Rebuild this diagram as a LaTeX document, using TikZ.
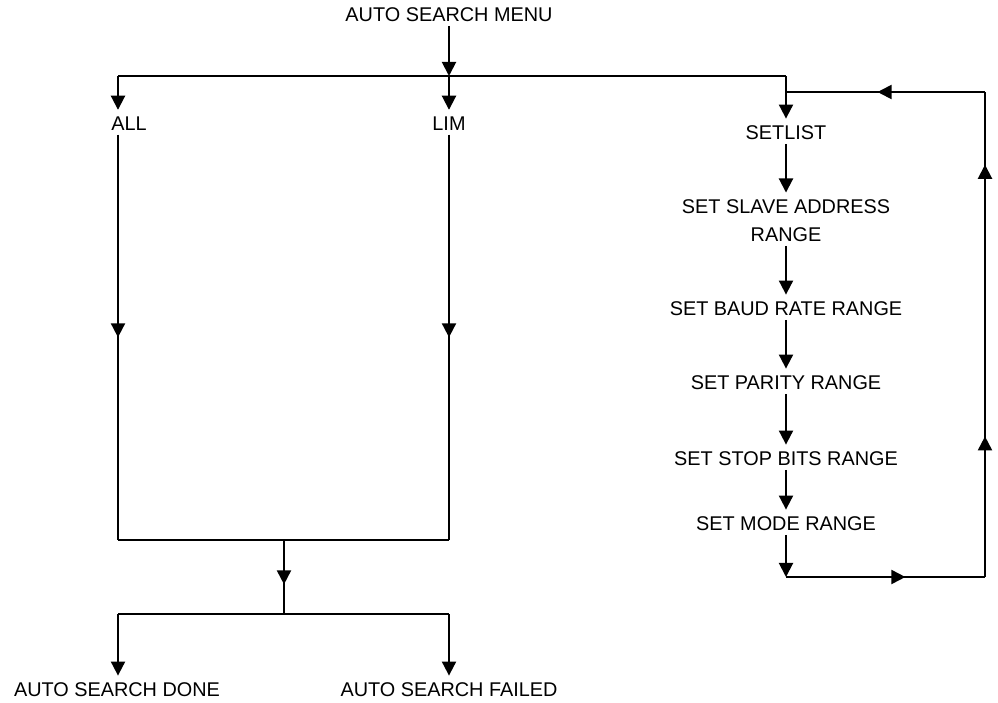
\documentclass[tikz,border=0pt]{standalone}
\usepackage{fontspec}
\setmainfont{Liberation Sans}
\usepackage{tikz}
\usetikzlibrary{arrows.meta, decorations.markings, positioning, calc}

\begin{document}
\begin{tikzpicture}[
  x=0.02cm, y=-0.02cm,
  txt/.style={font=\fontsize{11.3}{16}\selectfont, inner sep=2pt, align=center},
  flow/.style={line width=1.1pt},
  arrowend/.style={-{Triangle[width=8pt,length=8pt]}, shorten >=2pt},
  midarrow/.style={postaction={decorate, decoration={markings,
    mark=at position #1 with {\arrow{Triangle[width=8pt,length=8pt]}}}}}
]
  \useasboundingbox (0,0) rectangle (998,703);

  \node[txt] (menu) at (449,15) {AUTO SEARCH MENU};
  \node[txt] (all) at (129,124) {ALL};
  \node[txt] (lim) at (449,124) {LIM};
  \node[txt] (setlist) at (786,133) {SETLIST};
  \node[txt] (slave) at (786,221) {SET SLAVE ADDRESS\\RANGE};
  \node[txt] (baud) at (786,309) {SET BAUD RATE RANGE};
  \node[txt] (parity) at (786,383) {SET PARITY RANGE};
  \node[txt] (stop) at (786,459) {SET STOP BITS RANGE};
  \node[txt] (mode) at (786,524) {SET MODE RANGE};
  \node[txt] (done) at (117,690) {AUTO SEARCH DONE};
  \node[txt] (failed) at (449,690) {AUTO SEARCH FAILED};

  \coordinate (split) at (449,76);
  \coordinate (allx) at (118,76);
  \coordinate (setx) at (786,76);
  \coordinate (loopin) at (786,92);
  \coordinate (loopne) at (985,92);
  \coordinate (loopse) at (985,577);
  \coordinate (loopsw) at (786,577);
  \coordinate (boxsw) at (118,540);
  \coordinate (boxse) at (449,540);
  \coordinate (boxmid) at (284,540);
  \coordinate (fork) at (284,614);
  \coordinate (forkw) at (118,614);
  \coordinate (forke) at (449,614);

  \draw[flow, arrowend, shorten >=0pt] (menu) -- (split);
  \draw[flow] (allx) -- (setx);
  \draw[flow, arrowend] (allx) -- (allx |- all.north);
  \draw[flow, arrowend] (split) -- (lim);
  \draw[flow, arrowend] (setx) -- (setlist);

  \draw[flow, arrowend] (setlist) -- (slave);
  \draw[flow, arrowend] (slave) -- (baud);
  \draw[flow, arrowend] (baud) -- (parity);
  \draw[flow, arrowend] (parity) -- (stop);
  \draw[flow, arrowend] (stop) -- (mode);
  \draw[flow, arrowend, shorten >=0pt] (mode) -- (loopsw);

  \draw[flow, midarrow=0.6] (loopsw) -- (loopse);
  \draw[flow, midarrow=0.29, midarrow=0.85] (loopse) -- (loopne);
  \draw[flow, midarrow=0.54] (loopne) -- (loopin);

  \draw[flow, midarrow=0.5] (allx |- all.south) -- (boxsw);
  \draw[flow, midarrow=0.5] (lim) -- (boxse);
  \draw[flow] (boxsw) -- (boxse);
  \draw[flow, midarrow=0.6] (boxmid) -- (fork);
  \draw[flow] (forkw) -- (forke);
  \draw[flow, arrowend] (forkw) -- (forkw |- done.north);
  \draw[flow, arrowend] (forke) -- (failed);
\end{tikzpicture}
\end{document}
